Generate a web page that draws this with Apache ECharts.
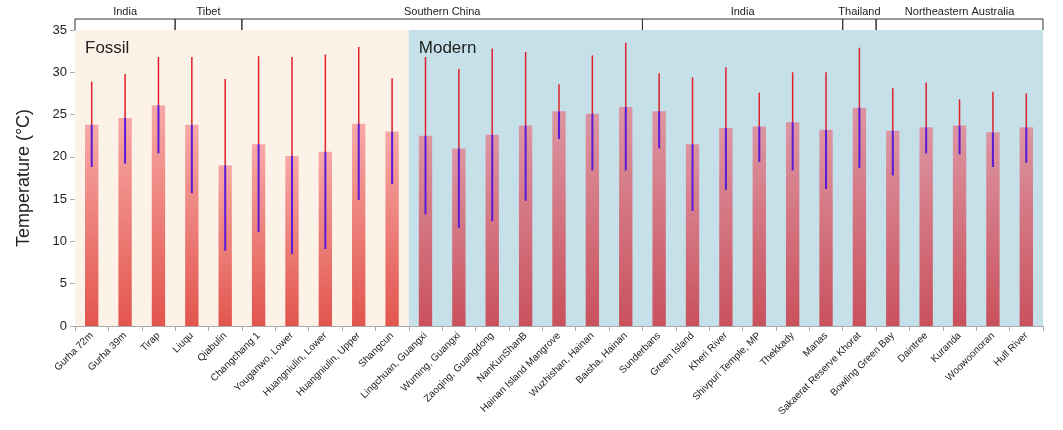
<!DOCTYPE html>
<html>
<head>
<meta charset="utf-8">
<script src="https://cdn.jsdelivr.net/npm/echarts@6/dist/echarts.min.js"></script>
<style>html,body{margin:0;padding:0;background:#fff}#main{width:1063px;height:430px}</style>
</head>
<body>
<div id="main"></div>
<script>
var sites = ['Gurha 72m', 'Gurha 39m', 'Tirap', 'Liuqu', 'Qiabulin', 'Changchang 1', 'Youganwo, Lower',
    'Huangniulin, Lower', 'Huangniulin, Upper', 'Shangcun', 'Lingchuan, Guangxi', 'Wuming, Guangxi',
    'Zaoqing, Guangdong', 'NanKunShanB', 'Hainan Island Mangrove', 'Wuzhishan, Hainan', 'Baisha, Hainan',
    'Sunderbans', 'Green Island', 'Kheri River', 'Shivpuri Temple, MP', 'Thekkady', 'Manas',
    'Sakaerat Reserve Khorat', 'Bowling Green Bay', 'Daintree', 'Kuranda', 'Woowoonoran', 'Hull River'];

var meanTemp = [23.8, 24.6, 26.1, 23.8, 19.0, 21.5, 20.1, 20.6, 23.9, 23.0, 22.5, 21.0, 22.6, 23.7, 25.4,
    25.1, 25.9, 25.4, 21.5, 23.4, 23.6, 24.1, 23.2, 25.8, 23.1, 23.5, 23.7, 22.9, 23.5];
var highTemp = [28.9, 29.8, 31.8, 31.8, 29.2, 31.9, 31.8, 32.1, 33.0, 29.3, 31.8, 30.4, 32.8, 32.4, 28.6,
    32.0, 33.5, 29.9, 29.4, 30.6, 27.6, 30.0, 30.0, 32.9, 28.1, 28.8, 26.8, 27.7, 27.5];
var lowTemp = [18.8, 19.2, 20.4, 15.7, 8.9, 11.1, 8.5, 9.1, 14.9, 16.8, 13.2, 11.6, 12.4, 14.8, 22.1,
    18.4, 18.4, 21.0, 13.6, 16.1, 19.4, 18.4, 16.2, 18.7, 17.8, 20.4, 20.3, 18.8, 19.3];

// regions along the top: [first index, last index, name]
var regions = [[0, 2, 'India'], [3, 4, 'Tibet'], [5, 16, 'Southern China'], [17, 22, 'India'],
    [23, 23, 'Thailand'], [24, 28, 'Northeastern Australia']];
var fossilCount = 10;

function grad(top, bottom) {
    return new echarts.graphic.LinearGradient(0, 0, 0, 1, [
        {offset: 0, color: top}, {offset: 1, color: bottom}]);
}

var barData = meanTemp.map(function (v, i) {
    return {
        value: v,
        itemStyle: {color: i < fossilCount ? grad('#f7a9a6', '#e2554d') : grad('#dd95a2', '#c9515c')}
    };
});

var areaLabel = {show: true, position: 'insideTopLeft', fontSize: 17, color: '#222', distance: 10, fontFamily: 'Liberation Sans'};

var option = {
    animation: false,
    grid: {left: 75, right: 20, top: 30, bottom: 104},
    xAxis: {
        type: 'category',
        data: sites,
        axisLine: {lineStyle: {color: '#aaa'}},
        axisTick: {show: true, lineStyle: {color: '#aaa'}},
        axisLabel: {rotate: 45, fontSize: 10, color: '#222', interval: 0, fontFamily: 'Liberation Sans', margin: 8}
    },
    yAxis: {
        type: 'value',
        min: 0, max: 35, interval: 5,
        name: 'Temperature (°C)',
        nameLocation: 'middle',
        nameGap: 42,
        nameTextStyle: {fontSize: 18, color: '#222', fontFamily: 'Liberation Sans'},
        axisLine: {show: true, lineStyle: {color: '#aaa'}},
        axisTick: {show: true, lineStyle: {color: '#aaa'}},
        axisLabel: {fontSize: 13, color: '#222', fontFamily: 'Liberation Sans'},
        splitLine: {lineStyle: {color: '#d8d8d8'}}
    },
    series: [{
        type: 'bar',
        data: barData,
        barWidth: '40%',
        z: 3,
        markArea: {
            silent: true,
            data: [
                [{name: 'Fossil', xAxis: sites[0], yAxis: 35, itemStyle: {color: '#fdf2e7'}, label: areaLabel},
                 {xAxis: sites[fossilCount - 1], yAxis: 0}],
                [{name: 'Modern', xAxis: sites[fossilCount], yAxis: 35, itemStyle: {color: '#c6e0e9'}, label: areaLabel},
                 {xAxis: sites[sites.length - 1], yAxis: 0}]
            ]
        }
    }, {
        type: 'custom',
        z: 5,
        data: sites.map(function (s, i) { return [i, lowTemp[i], meanTemp[i], highTemp[i]]; }),
        renderItem: function (params, api) {
            var lo = api.coord([api.value(0), api.value(1)]);
            var mid = api.coord([api.value(0), api.value(2)]);
            var hi = api.coord([api.value(0), api.value(3)]);
            return {type: 'group', children: [
                {type: 'line', shape: {x1: hi[0], y1: hi[1], x2: mid[0], y2: mid[1]}, style: {stroke: '#e0202a', lineWidth: 1.5}},
                {type: 'line', shape: {x1: mid[0], y1: mid[1], x2: lo[0], y2: lo[1]}, style: {stroke: '#5a1ad8', lineWidth: 2}}
            ]};
        }
    }, {
        type: 'custom',
        z: 6,
        clip: false,
        silent: true,
        data: regions,
        renderItem: function (params, api) {
            var w = api.size([1, 0])[0];
            var a = api.coord([api.value(0), 35]);
            var b = api.coord([api.value(1), 35]);
            var x1 = a[0] - w / 2, x2 = b[0] + w / 2, y = a[1] - 11;
            return {type: 'group', children: [
                {type: 'polyline', shape: {points: [[x1, a[1]], [x1, y], [x2, y], [x2, a[1]]]}, style: {stroke: '#333', lineWidth: 1, fill: null}},
                {type: 'text', x: (x1 + x2) / 2, y: y - 2, style: {text: regions[params.dataIndex][2], fontSize: 11, fill: '#222', align: 'center', verticalAlign: 'bottom', fontFamily: 'Liberation Sans'}}
            ]};
        }
    }]
};

var myChart = echarts.init(document.getElementById('main'));
myChart.setOption(option);
</script>
</body>
</html>
